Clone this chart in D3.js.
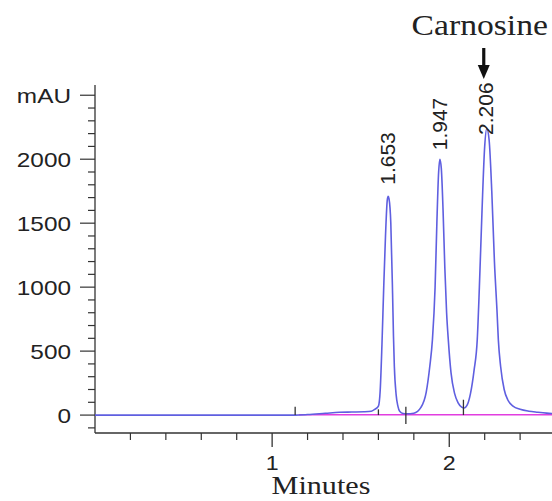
<!DOCTYPE html>
<html>
<head>
<meta charset="utf-8">
<script src="https://cdn.jsdelivr.net/npm/d3@7"></script>
<style>
  html, body { margin: 0; padding: 0; background: #fff; }
  svg { display: block; }
</style>
</head>
<body>
<svg id="chart" width="552" height="501"></svg>
<script>
// trace (minutes, mAU)
const traceTime = [0, 0.5, 1.0, 1.13, 1.2, 1.3, 1.38, 1.45, 1.52, 1.56, 1.58, 1.60, 1.61, 1.62, 1.63, 1.64, 1.65, 1.655, 1.66, 1.67, 1.68, 1.685, 1.69, 1.70, 1.71, 1.72, 1.74, 1.76, 1.80, 1.84, 1.87, 1.89, 1.905, 1.92, 1.93, 1.94, 1.947, 1.955, 1.965, 1.975, 1.985, 1.995, 2.01, 2.03, 2.05, 2.07, 2.085, 2.10, 2.12, 2.14, 2.158, 2.17, 2.185, 2.20, 2.212, 2.225, 2.24, 2.255, 2.27, 2.277, 2.29, 2.31, 2.33, 2.36, 2.40, 2.45, 2.50, 2.55, 2.60];
const traceMAU  = [0, 0, 0, 0, 4, 14, 22, 24, 26, 30, 45, 70, 190, 550, 1000, 1400, 1680, 1710, 1690, 1500, 950, 620, 380, 160, 70, 30, 12, 10, 15, 60, 180, 380, 590, 1000, 1500, 1900, 2000, 1930, 1600, 1150, 800, 580, 330, 170, 95, 62, 55, 75, 170, 350, 590, 1000, 1600, 2100, 2240, 2150, 1750, 1200, 800, 590, 380, 200, 120, 70, 45, 30, 22, 15, 10];

const baselineTime = [1.15, 2.60];
const baselineMAU = [3, 3];

const peakTimes = [1.653, 1.947, 2.206];
const peakLabels = ["1.653", "1.947", "2.206"];
const peakLabelLevel = [1800, 2070, 2190];

const markerTimes = [1.13, 1.60, 1.755, 2.08];
const markerSpans = [[0, 65], [0, 45], [-70, 65], [0, 120]];

const yMajor = [0, 500, 1000, 1500, 2000, 2500];
const yLabels = ["0", "500", "1000", "1500", "2000", "mAU"];
const xMajor = [1, 2];

const svg = d3.select("#chart");
const margin = { left: 95, top: 85, bottom: 68 };
const W = 552, H = 501;

const x = d3.scaleLinear().domain([0, 2.58]).range([margin.left, 552]);
const y = d3.scaleLinear().domain([-140, 2580]).range([H - margin.bottom, margin.top]);

const ink = "#333";
const sx = 1.16;

// y axis
const yAxisG = svg.append("g").attr("transform", `translate(${margin.left},0)`);
yAxisG.append("line")
  .attr("y1", y(2580)).attr("y2", y(-140))
  .attr("stroke", ink).attr("stroke-width", 1.3);
yAxisG.selectAll(".minor")
  .data(d3.range(-100, 2501, 100).filter(v => v % 500 !== 0))
  .enter().append("line")
  .attr("x1", -7).attr("x2", 0)
  .attr("y1", d => y(d)).attr("y2", d => y(d))
  .attr("stroke", ink).attr("stroke-width", 1.2);
yAxisG.selectAll(".major")
  .data(yMajor)
  .enter().append("line")
  .attr("x1", -15).attr("x2", 0)
  .attr("y1", d => y(d)).attr("y2", d => y(d))
  .attr("stroke", ink).attr("stroke-width", 1.2);
yAxisG.selectAll(".lab")
  .data(yMajor)
  .enter().append("text")
  .attr("transform", d => `translate(-24,${y(d)}) scale(${sx},1)`)
  .attr("text-anchor", "end")
  .attr("dy", "0.36em")
  .attr("font-family", "Liberation Sans, Arial, sans-serif")
  .attr("font-size", 21)
  .attr("fill", "#222")
  .text((d, i) => yLabels[i]);

// x axis
const x0 = y(-140);
const xAxisG = svg.append("g").attr("transform", `translate(0,${x0})`);
xAxisG.append("line")
  .attr("x1", margin.left).attr("x2", W)
  .attr("stroke", ink).attr("stroke-width", 1.3);
xAxisG.selectAll(".minor")
  .data(d3.range(0.2, 2.41, 0.2).filter(v => Math.abs(v - Math.round(v)) > 0.01))
  .enter().append("line")
  .attr("x1", d => x(d)).attr("x2", d => x(d))
  .attr("y1", 0).attr("y2", 7)
  .attr("stroke", ink).attr("stroke-width", 1.2);
xAxisG.selectAll(".major")
  .data(xMajor)
  .enter().append("line")
  .attr("x1", d => x(d)).attr("x2", d => x(d))
  .attr("y1", 0).attr("y2", 14)
  .attr("stroke", ink).attr("stroke-width", 1.3);
xAxisG.selectAll(".lab")
  .data(xMajor)
  .enter().append("text")
  .attr("transform", d => `translate(${x(d)},37) scale(${sx},1)`)
  .attr("text-anchor", "middle")
  .attr("font-family", "Liberation Sans, Arial, sans-serif")
  .attr("font-size", 20)
  .attr("fill", "#222")
  .text(d => d);

svg.append("text")
  .attr("transform", `translate(321,494) scale(${sx},1)`)
  .attr("text-anchor", "middle")
  .attr("font-family", "Liberation Serif, Times New Roman, serif")
  .attr("font-size", 26)
  .attr("fill", "#222")
  .text("Minutes");

// baseline (integration)
svg.append("path")
  .datum(d3.zip(baselineTime, baselineMAU))
  .attr("fill", "none")
  .attr("stroke", "#e23ddf")
  .attr("stroke-width", 1.6)
  .attr("d", d3.line().x(d => x(d[0])).y(d => y(d[1])));

// chromatogram trace
svg.append("path")
  .datum(d3.zip(traceTime, traceMAU))
  .attr("fill", "none")
  .attr("stroke", "#5f5fe0")
  .attr("stroke-width", 1.6)
  .attr("d", d3.line().curve(d3.curveMonotoneX).x(d => x(d[0])).y(d => y(d[1])));

// integration markers
svg.selectAll(".marker")
  .data(markerTimes)
  .enter().append("line")
  .attr("x1", d => x(d)).attr("x2", d => x(d))
  .attr("y1", (d, i) => y(markerSpans[i][1]))
  .attr("y2", (d, i) => y(markerSpans[i][0]))
  .attr("stroke", "#333").attr("stroke-width", 1.3);

// peak labels
svg.selectAll(".plab")
  .data(peakTimes)
  .enter().append("text")
  .attr("transform", (d, i) => `translate(${x(d)},${y(peakLabelLevel[i])}) rotate(-90)`)
  .attr("dy", "0.36em")
  .attr("font-family", "Liberation Sans, Arial, sans-serif")
  .attr("font-size", 21)
  .attr("fill", "#222")
  .text((d, i) => peakLabels[i]);

// Carnosine annotation
const cx = x(2.206);
svg.append("text")
  .attr("transform", `translate(${cx - 6},35) scale(${sx},1)`)
  .attr("text-anchor", "middle")
  .attr("font-family", "Liberation Serif, Times New Roman, serif")
  .attr("font-size", 29)
  .attr("fill", "#222")
  .text("Carnosine");
svg.append("line")
  .attr("x1", cx - 2).attr("x2", cx - 2)
  .attr("y1", 48).attr("y2", 68)
  .attr("stroke", "#111").attr("stroke-width", 3.2);
svg.append("path")
  .attr("d", `M${cx - 8},65 L${cx + 4},65 L${cx - 2},79 Z`)
  .attr("fill", "#111");
</script>
</body>
</html>
